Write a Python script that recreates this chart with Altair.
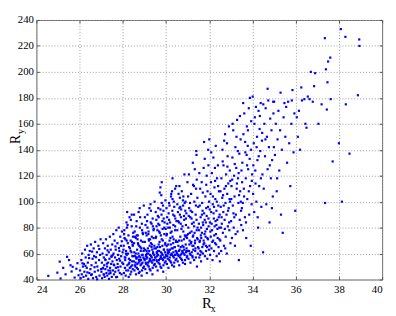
import altair as alt
import pandas as pd

# Scatter points (Rx, Ry), grouped by Rx band
BAND_A = [(24.55,42.8),(24.97,45.3),(25.08,53.8),(25.24,49),(25.35,44),(25.51,55),(25.58,51),(25.68,49.8),(25.85,48.3),(25.95,43.3),(25.42,57.5),(25.77,41.5),(25.12,40.8),(25.9,52.6),(25.63,46.2)]
BAND_B = [(26.02,47),(26.05,41),(26.08,55),(26.1,44),(26.12,60),(26.15,50),(26.18,42),(26.2,52),(26.22,46),(26.25,63),(26.28,57),(26.3,43),(26.33,49),(26.35,66),(26.38,53),(26.4,40.5),(26.42,59),(26.45,45),(26.47,62),(26.5,48),(26.52,67),(26.55,51),(26.57,44),(26.6,56),(26.62,41),(26.65,64),(26.67,58),(26.7,46),(26.72,69),(26.75,53),(26.77,42),(26.8,61),(26.82,50),(26.85,47),(26.87,66),(26.9,55),(26.92,43),(26.95,59),(26.97,71),(26.99,48),(26.13,52.5),(26.36,45.5),(26.58,61.5),(26.81,40.2),(26.44,56.5),(26.69,49.5),(26.91,63.5),(26.27,50.5),(26.53,43.5),(26.76,57.2)]
BAND_C = [(27.01,46),(27.03,53),(27.04,41),(27.06,60),(27.08,49),(27.09,68),(27.11,44),(27.12,57),(27.14,51),(27.16,42),(27.17,64),(27.19,48),(27.2,55),(27.22,71),(27.24,45),(27.25,59),(27.27,50),(27.28,43),(27.3,66),(27.32,53),(27.33,47),(27.35,61),(27.36,40.5),(27.38,56),(27.4,73),(27.41,49),(27.43,45),(27.44,63),(27.46,52),(27.48,58),(27.49,42),(27.51,67),(27.52,54),(27.54,47),(27.56,75),(27.57,60),(27.59,44),(27.6,51),(27.62,70),(27.64,57),(27.65,46),(27.67,63),(27.68,49),(27.7,78),(27.72,55),(27.73,42),(27.75,68),(27.76,52),(27.78,59),(27.8,47),(27.81,80),(27.83,56),(27.84,62),(27.86,45),(27.88,73),(27.89,50),(27.91,66),(27.92,58),(27.94,44),(27.96,77),(27.97,53),(27.99,61),(27.07,48.5),(27.18,55.5),(27.29,62.5),(27.37,44.5),(27.47,57.5),(27.58,51.5),(27.66,65.5),(27.77,49.5),(27.87,54.5),(27.95,69.5),(27.13,43.8),(27.26,52.2),(27.42,46.8),(27.53,58.8),(27.69,41.8),(27.82,64.2)]
BAND_D = [(28.02,52),(28.04,66),(28.05,45),(28.07,78),(28.09,57),(28.1,49),(28.12,71),(28.13,43),(28.15,62),(28.17,84),(28.18,59),(28.2,92),(28.21,51),(28.23,68),(28.25,47),(28.26,74),(28.28,56),(28.3,53),(28.31,88),(28.33,64),(28.35,44),(28.36,70),(28.38,50),(28.4,61),(28.41,81),(28.43,54),(28.45,67),(28.46,48),(28.48,76),(28.49,58),(28.03,63),(28.08,72),(28.11,55),(28.16,47),(28.19,80),(28.24,60),(28.27,42),(28.29,65),(28.34,55),(28.37,86),(28.39,46),(28.42,69),(28.44,51),(28.47,73),(28.06,75),(28.14,60),(28.22,82),(28.32,49),(28.41,90),(28.46,66),(28.12,57),(28.27,52),(28.36,62),(28.44,58),(28.18,70)]
BAND_E = [(28.51,54),(28.52,68),(28.54,47),(28.55,77),(28.57,58),(28.58,50),(28.6,72),(28.61,44),(28.63,56),(28.64,85),(28.66,63),(28.67,52),(28.69,74),(28.7,48),(28.72,60),(28.73,92),(28.75,55),(28.76,66),(28.78,46),(28.79,80),(28.81,57),(28.82,51),(28.84,70),(28.85,64),(28.87,43),(28.88,83),(28.9,59),(28.91,53),(28.93,75),(28.94,49),(28.96,62),(28.97,97),(28.99,56),(28.53,61),(28.56,73),(28.59,53),(28.62,81),(28.65,49),(28.68,57),(28.71,67),(28.74,45),(28.77,54),(28.8,88),(28.83,62),(28.86,52),(28.89,78),(28.92,69),(28.95,57),(28.98,50),(28.52,90),(28.6,60),(28.68,71),(28.76,58),(28.84,55),(28.92,76),(28.57,51),(28.65,74),(28.73,53),(28.81,65),(28.89,47),(28.97,64),(28.62,57),(28.78,95),(28.91,59),(28.7,68)]
BAND_F = [(29.01,55),(29.02,69),(29.04,48),(29.05,82),(29.07,59),(29.08,52),(29.1,74),(29.11,45),(29.13,57),(29.14,90),(29.16,64),(29.17,53),(29.19,77),(29.2,50),(29.22,62),(29.23,95),(29.25,56),(29.26,71),(29.28,47),(29.29,84),(29.31,58),(29.32,54),(29.34,73),(29.35,67),(29.37,44),(29.38,87),(29.4,60),(29.41,55),(29.43,79),(29.44,51),(29.46,66),(29.47,100),(29.49,57),(29.03,63),(29.06,76),(29.09,56),(29.12,85),(29.15,51),(29.18,60),(29.21,70),(29.24,48),(29.27,55),(29.3,93),(29.33,65),(29.36,53),(29.39,81),(29.42,72),(29.45,59),(29.48,52),(29.02,88),(29.1,62),(29.18,75),(29.26,59),(29.34,57),(29.42,78),(29.06,53),(29.14,80),(29.22,54),(29.3,68),(29.38,49),(29.46,64),(29.12,60),(29.28,98),(29.4,61),(29.2,71),(29.08,58),(29.33,83),(29.44,55),(29.24,66),(29.36,63)]
BAND_G = [(29.51,57),(29.52,72),(29.54,50),(29.55,86),(29.57,61),(29.58,54),(29.6,78),(29.61,47),(29.63,59),(29.64,95),(29.66,67),(29.67,55),(29.69,82),(29.7,52),(29.71,107),(29.72,65),(29.74,111),(29.75,58),(29.76,74),(29.78,49),(29.79,90),(29.8,115),(29.81,60),(29.82,56),(29.84,79),(29.85,70),(29.87,46),(29.88,93),(29.9,63),(29.91,57),(29.93,84),(29.94,53),(29.96,68),(29.97,101),(29.99,59),(29.53,64),(29.56,81),(29.59,58),(29.62,89),(29.65,53),(29.68,62),(29.71,76),(29.74,50),(29.77,57),(29.8,99),(29.83,66),(29.86,55),(29.89,87),(29.92,75),(29.95,61),(29.98,54),(29.52,92),(29.6,65),(29.68,77),(29.76,61),(29.84,59),(29.92,80),(29.56,55),(29.64,83),(29.72,56),(29.8,71),(29.88,51),(29.96,67),(29.62,62),(29.78,105),(29.9,63),(29.7,69),(29.58,60),(29.83,85),(29.94,57),(29.66,88),(29.86,97),(29.54,73),(29.98,79),(29.74,94)]
BAND_H = [(30.01,58),(30.02,74),(30.04,52),(30.05,88),(30.07,63),(30.08,56),(30.1,80),(30.11,49),(30.13,61),(30.14,99),(30.16,70),(30.17,57),(30.19,84),(30.2,54),(30.22,67),(30.23,104),(30.25,60),(30.26,77),(30.28,51),(30.29,93),(30.31,64),(30.32,58),(30.34,82),(30.35,71),(30.37,50),(30.38,96),(30.4,65),(30.41,59),(30.43,87),(30.44,55),(30.46,69),(30.47,112),(30.49,61),(30.03,66),(30.06,83),(30.09,60),(30.12,91),(30.15,55),(30.18,63),(30.21,76),(30.24,53),(30.27,59),(30.3,102),(30.33,68),(30.36,57),(30.39,89),(30.42,78),(30.45,62),(30.48,56),(30.02,95),(30.1,67),(30.18,80),(30.26,64),(30.34,61),(30.42,81),(30.06,58),(30.14,86),(30.22,59),(30.3,73),(30.38,53),(30.46,70),(30.12,62),(30.28,108),(30.4,65),(30.2,72),(30.08,61),(30.33,90),(30.44,59),(30.16,97),(30.36,100),(30.04,75),(30.48,85),(30.24,106),(30.3,118),(30.42,110)]
BAND_I = [(30.51,60),(30.52,78),(30.54,54),(30.55,92),(30.57,66),(30.58,58),(30.6,84),(30.61,51),(30.63,63),(30.64,103),(30.66,73),(30.67,59),(30.69,88),(30.7,56),(30.72,70),(30.73,108),(30.75,62),(30.76,81),(30.78,53),(30.79,97),(30.81,65),(30.82,60),(30.84,86),(30.85,121),(30.87,74),(30.88,52),(30.9,100),(30.91,67),(30.93,61),(30.94,91),(30.96,57),(30.97,72),(30.99,115),(30.53,69),(30.56,85),(30.59,62),(30.62,95),(30.65,57),(30.68,65),(30.71,79),(30.74,55),(30.77,61),(30.8,104),(30.83,71),(30.86,59),(30.89,93),(30.92,82),(30.95,64),(30.98,58),(30.52,98),(30.6,70),(30.68,83),(30.76,66),(30.84,63),(30.92,87),(30.56,59),(30.64,90),(30.72,60),(30.8,77),(30.88,55),(30.96,74),(30.62,112),(30.78,101),(30.9,73),(30.7,94),(30.58,106),(30.83,89),(30.94,62),(30.66,96),(30.86,99)]
BAND_J = [(31.01,62),(31.03,80),(31.04,56),(31.06,121),(31.07,95),(31.09,70),(31.1,60),(31.12,88),(31.13,53),(31.15,68),(31.16,106),(31.18,77),(31.19,61),(31.21,92),(31.22,58),(31.24,73),(31.25,113),(31.27,66),(31.28,84),(31.3,55),(31.31,100),(31.33,125),(31.34,70),(31.36,64),(31.37,90),(31.39,110),(31.4,139),(31.41,136),(31.42,78),(31.43,50),(31.45,103),(31.46,71),(31.48,65),(31.49,96),(31.02,75),(31.05,89),(31.08,67),(31.11,99),(31.14,59),(31.17,69),(31.2,83),(31.23,57),(31.26,63),(31.29,112),(31.32,76),(31.35,62),(31.38,97),(31.41,86),(31.44,72),(31.47,60),(31.02,104),(31.1,76),(31.18,87),(31.26,74),(31.34,68),(31.42,117),(31.06,62),(31.14,93),(31.22,66),(31.3,81),(31.38,57),(31.46,80),(31.24,130)]
BAND_K = [(31.51,64),(31.53,78),(31.54,57),(31.56,97),(31.57,70),(31.59,62),(31.6,88),(31.62,54),(31.63,72),(31.65,115),(31.66,76),(31.68,65),(31.69,93),(31.71,60),(31.72,82),(31.74,126),(31.76,146),(31.77,68),(31.79,86),(31.8,58),(31.82,104),(31.83,73),(31.85,66),(31.86,95),(31.88,120),(31.89,79),(31.91,56),(31.92,108),(31.94,71),(31.95,140),(31.96,87),(31.98,63),(31.99,100),(31.52,83),(31.55,69),(31.58,110),(31.61,74),(31.64,61),(31.67,99),(31.7,84),(31.73,67),(31.76,91),(31.79,133),(31.82,77),(31.85,62),(31.88,89),(31.91,72),(31.94,96),(31.97,81),(31.54,122),(31.62,80),(31.7,107),(31.78,75),(31.86,113),(31.9,65),(31.58,59),(31.66,90),(31.74,70),(31.84,84),(31.96,128)]
BAND_L = [(32.0,148),(32.01,66),(32.03,84),(32.04,59),(32.06,106),(32.07,73),(32.09,92),(32.1,64),(32.12,122),(32.13,78),(32.15,55),(32.16,98),(32.18,70),(32.19,134),(32.21,87),(32.22,62),(32.24,111),(32.25,81),(32.27,68),(32.28,102),(32.3,143),(32.31,75),(32.33,93),(32.34,58),(32.36,118),(32.37,86),(32.39,72),(32.4,128),(32.42,97),(32.43,65),(32.45,108),(32.46,80),(32.48,90),(32.49,54),(32.02,94),(32.05,77),(32.08,115),(32.11,83),(32.14,69),(32.17,104),(32.2,91),(32.23,74),(32.26,126),(32.29,85),(32.32,67),(32.35,100),(32.38,79),(32.41,112),(32.44,88),(32.47,71),(32.09,138),(32.22,96),(32.33,82),(32.45,60),(32.27,116)]
BAND_M = [(32.51,70),(32.53,96),(32.55,62),(32.56,118),(32.58,83),(32.6,103),(32.61,140),(32.63,76),(32.65,92),(32.66,128),(32.68,66),(32.7,110),(32.71,86),(32.73,152),(32.75,99),(32.76,73),(32.78,121),(32.8,90),(32.81,60),(32.83,106),(32.85,135),(32.86,81),(32.88,114),(32.9,95),(32.91,158),(32.93,78),(32.95,124),(32.96,100),(32.98,68),(32.52,108),(32.57,88),(32.62,131),(32.67,97),(32.72,79),(32.77,112),(32.82,145),(32.87,93),(32.92,84),(32.97,116),(32.54,80),(32.64,105),(32.74,64),(32.84,127),(32.94,102),(32.69,147)]
BAND_N = [(33.01,85),(33.03,112),(33.05,72),(33.07,134),(33.09,97),(33.11,155),(33.13,80),(33.15,120),(33.17,104),(33.19,66),(33.21,142),(33.23,90),(33.25,126),(33.27,110),(33.29,163),(33.31,77),(33.33,118),(33.35,99),(33.37,55),(33.39,137),(33.41,86),(33.43,108),(33.45,148),(33.47,93),(33.49,124),(33.02,102),(33.08,160),(33.12,91),(33.18,129),(33.22,75),(33.28,114),(33.32,139),(33.38,105),(33.42,166),(33.48,82),(33.06,117),(33.16,88),(33.26,150),(33.36,122),(33.46,100)]
BAND_O = [(33.51,95),(33.53,130),(33.56,78),(33.58,152),(33.6,110),(33.62,168),(33.65,88),(33.67,138),(33.69,118),(33.71,72),(33.74,158),(33.76,102),(33.78,143),(33.8,125),(33.83,172),(33.85,90),(33.87,133),(33.89,112),(33.92,66),(33.94,162),(33.96,98),(33.98,121),(33.52,115),(33.57,176),(33.61,104),(33.66,146),(33.7,84),(33.75,128),(33.79,155),(33.83,108),(33.88,180),(33.93,140),(33.97,116),(33.55,99),(33.73,136)]
BAND_P = [(34.01,181),(34.03,106),(34.06,145),(34.08,92),(34.11,165),(34.13,124),(34.16,173),(34.18,100),(34.21,150),(34.23,132),(34.26,80),(34.28,170),(34.31,112),(34.33,156),(34.36,139),(34.38,176),(34.41,96),(34.44,147),(34.46,121),(34.49,61),(34.04,128),(34.09,160),(34.14,114),(34.19,142),(34.24,88),(34.29,135),(34.34,166),(34.39,118),(34.45,153),(34.5,175)]
BAND_Q = [(34.52,110),(34.55,160),(34.58,135),(34.61,172),(34.64,98),(34.67,150),(34.7,125),(34.73,178),(34.76,142),(34.79,84),(34.82,164),(34.85,118),(34.88,155),(34.91,132),(34.94,104),(34.97,168),(34.99,142),(34.6,148),(34.7,187),(34.8,128),(34.9,95),(34.96,177)]
BAND_R = [(35.0,177),(35.04,136),(35.08,160),(35.12,108),(35.16,148),(35.2,170),(35.24,124),(35.28,155),(35.32,90),(35.36,140),(35.4,76),(35.44,165),(35.48,176),(35.14,118),(35.3,184)]
BAND_S = [(35.52,150),(35.56,173),(35.6,130),(35.65,177),(35.7,145),(35.75,112),(35.8,160),(35.82,178),(35.85,186),(35.9,138),(35.98,93),(35.94,168)]
BAND_T = [(36.05,165),(36.1,150),(36.15,170),(36.26,188),(36.29,178),(36.4,179),(36.45,160),(36.5,157),(36.56,181),(36.64,179),(36.7,200),(36.79,177),(36.85,189),(36.9,199),(36.2,140)]
BAND_U = [(37.05,160),(37.2,175),(37.35,226),(37.36,99),(37.4,202),(37.44,171),(37.47,192),(37.5,208),(37.6,211),(37.62,179),(37.71,131),(38.0,145),(38.09,233),(38.14,100),(38.3,227),(38.32,175),(38.49,137),(38.88,182),(38.94,225),(38.95,220)]

X_TICKS = [24, 26, 28, 30, 32, 34, 36, 38, 40]
Y_TICKS = [40, 60, 80, 100, 120, 140, 160, 180, 200, 220, 240]

bands = [BAND_A, BAND_B, BAND_C, BAND_D, BAND_E, BAND_F, BAND_G, BAND_H, BAND_I, BAND_J,
         BAND_K, BAND_L, BAND_M, BAND_N, BAND_O, BAND_P, BAND_Q, BAND_R, BAND_S, BAND_T, BAND_U]
pts = [p for b in bands for p in b]
df = pd.DataFrame(pts, columns=["rx", "ry"])

FONT = "Liberation Serif"
xs = alt.Scale(domain=[24, 40], nice=False, zero=False)
ys = alt.Scale(domain=[40, 240], nice=False, zero=False)

points = alt.Chart(df).mark_square(size=5, color="#0000ff", opacity=1).encode(
    x=alt.X("rx:Q", scale=xs, axis=alt.Axis(values=X_TICKS, title=None, grid=True, gridDash=[1, 2],
                                             gridColor="#9a9a9a", gridOpacity=1, ticks=False, domain=False,
                                             labelFontSize=11, labelFont=FONT, labelColor="black", labelPadding=4)),
    y=alt.Y("ry:Q", scale=ys, axis=alt.Axis(values=Y_TICKS, title=None, grid=True, gridDash=[1, 2],
                                             gridColor="#9a9a9a", gridOpacity=1, ticks=False, domain=False,
                                             labelFontSize=11, labelFont=FONT, labelColor="black", labelPadding=3)),
)

def tick_layer(xorient, yorient):
    return alt.Chart(df.head(1)).mark_point(opacity=0).encode(
        x=alt.X("rx:Q", scale=xs, axis=alt.Axis(orient=xorient, values=X_TICKS, title=None, labels=False, grid=False,
                                                 domain=False, ticks=True, tickSize=3, offset=-3, tickColor="#555")),
        y=alt.Y("ry:Q", scale=ys, axis=alt.Axis(orient=yorient, values=Y_TICKS, title=None, labels=False, grid=False,
                                                 domain=False, ticks=True, tickSize=3, offset=-3, tickColor="#555")),
    )

ticks_bl = tick_layer("bottom", "left")
ticks_tr = tick_layer("top", "right")

def label(txt, x, y, size, angle=0):
    return alt.Chart(pd.DataFrame({"t": [txt]})).mark_text(
        font=FONT, fontSize=size, align="center", baseline="middle", angle=angle, color="black"
    ).encode(x=alt.value(x), y=alt.value(y), text="t:N")

titles = [
    label("R", 174, 289, 15),
    label("x", 180.5, 295, 10),
    label("R", -20.5, 122, 14, 270),
    label("y", -16, 114, 10, 270),
]

chart = alt.layer(points, ticks_bl, ticks_tr, *titles).resolve_axis(
    x="independent", y="independent"
).properties(
    width=353, height=265,
    autosize=alt.AutoSizeParams(type="none"),
    padding={"left": 29, "top": 9, "right": 6, "bottom": 34},
).configure_view(stroke="#666", strokeWidth=1)

chart.save("out.html", embed_options={"renderer": "svg", "actions": False})
